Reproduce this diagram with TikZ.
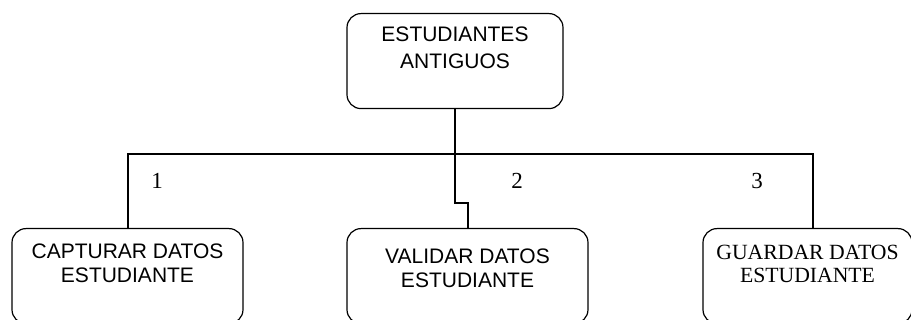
\documentclass[tikz,border=0pt]{standalone}
\usepackage{fontspec}
\setmainfont{Liberation Serif}
\setsansfont{Liberation Sans}
\usetikzlibrary{positioning}

% texto de caja: ancho, relleno superior, interlineado, texto
\newcommand{\textocaja}[4]{\parbox[t][95pt][t]{#1}{\centering\vspace*{#2}\fontsize{21}{#3}\selectfont #4}}

\begin{document}
\begin{tikzpicture}[x=1pt, y=-1pt,
    caja/.style={draw, line width=1.2pt, rounded corners=14pt, inner sep=0pt, anchor=north},
    linea/.style={line width=2pt},
    num/.style={font=\fontsize{23}{27}\selectfont, inner sep=0pt}]
    \useasboundingbox (0,0) rectangle (911,320);
    \clip (0,0) rectangle (911,320);

    % cajas
    \node[caja, font=\sffamily] (ant) at (455,13) {\textocaja{216pt}{13.7pt}{26.6pt}{ESTUDIANTES\\ANTIGUOS}};
    \node[caja, font=\sffamily] (cap) at (127.5,228) {\textocaja{231pt}{15pt}{24pt}{CAPTURAR DATOS\\ESTUDIANTE}};
    \node[caja, font=\sffamily] (val) at (467.5,228) {\textocaja{241pt}{20pt}{24pt}{VALIDAR DATOS\\ESTUDIANTE}};
    \node[caja, font=\rmfamily] (gua) at (807.5,228) {\textocaja{209pt}{17pt}{23pt}{\fontsize{21.7}{23}\selectfont GUARDAR DATOS\\ESTUDIANTE}};

    % numeros
    \node[num] (n1) at (157,181) {1};
    \node[num] (n2) at (517,181) {2};
    \node[num] (n3) at (757,181) {3};

    % conectores
    \coordinate (bus) at (455,154);
    \draw[linea] (cap.north) |- ([xshift=5.5pt]gua.north |- bus) -- ([xshift=5.5pt]gua.north);
    \draw[linea] (ant.south) -- (bus) -- ++(0,49) -| (val.north);
\end{tikzpicture}
\end{document}
